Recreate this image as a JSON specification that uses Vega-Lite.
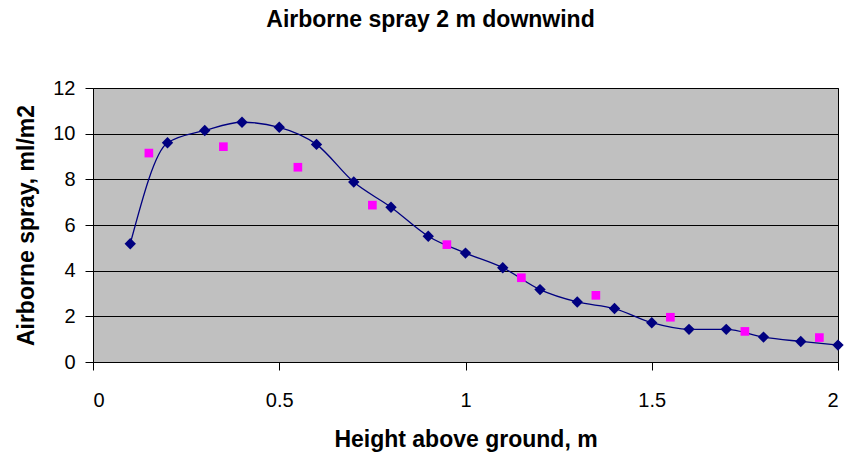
{
  "$schema": "https://vega.github.io/schema/vega-lite/v6.json",
  "width": 745,
  "height": 274,
  "autosize": {"type": "none"},
  "padding": {"left": 93, "top": 88, "right": 15, "bottom": 90},
  "background": "white",
  "config": {
    "font": "Liberation Sans",
    "view": {"fill": "#C0C0C0", "stroke": "black", "strokeWidth": 1},
    "axis": {"labelFont": "Liberation Sans", "titleFont": "Liberation Sans", "labelColor": "black", "titleColor": "black", "domainColor": "black", "tickColor": "black"}
  },
  "title": {
    "text": "Airborne spray 2 m downwind",
    "fontSize": 23,
    "fontWeight": "bold",
    "font": "Liberation Sans",
    "color": "black",
    "anchor": "middle",
    "frame": "group",
    "dx": -35,
    "offset": 46
  },
  "datasets": {
    "measured": [
      {"h": 0.1, "v": 5.18},
      {"h": 0.2, "v": 9.6},
      {"h": 0.3, "v": 10.14},
      {"h": 0.4, "v": 10.5},
      {"h": 0.5, "v": 10.28},
      {"h": 0.6, "v": 9.53},
      {"h": 0.7, "v": 7.88},
      {"h": 0.8, "v": 6.78},
      {"h": 0.9, "v": 5.51},
      {"h": 1.0, "v": 4.77},
      {"h": 1.1, "v": 4.13},
      {"h": 1.2, "v": 3.17},
      {"h": 1.3, "v": 2.63},
      {"h": 1.4, "v": 2.34},
      {"h": 1.5, "v": 1.72},
      {"h": 1.6, "v": 1.43},
      {"h": 1.7, "v": 1.43},
      {"h": 1.8, "v": 1.09},
      {"h": 1.9, "v": 0.9},
      {"h": 2.0, "v": 0.74}
    ],
    "second": [
      {"h": 0.15, "v": 9.15},
      {"h": 0.35, "v": 9.43},
      {"h": 0.55, "v": 8.53},
      {"h": 0.75, "v": 6.87},
      {"h": 0.95, "v": 5.14},
      {"h": 1.15, "v": 3.69},
      {"h": 1.35, "v": 2.92},
      {"h": 1.55, "v": 1.96},
      {"h": 1.75, "v": 1.34},
      {"h": 1.95, "v": 1.07}
    ]
  },
  "encoding": {
    "x": {
      "field": "h", "type": "quantitative",
      "scale": {"domain": [0, 2], "nice": false},
      "axis": {
        "title": "Height above ground, m",
        "titleFontSize": 23, "titleFontWeight": "bold", "titlePadding": 18,
        "labelFontSize": 20, "labelPadding": 20,
        "values": [0, 0.5, 1, 1.5, 2], "format": "~g",
        "grid": false, "tickSize": 8, "domain": false
      }
    },
    "y": {
      "field": "v", "type": "quantitative",
      "scale": {"domain": [0, 12], "nice": false},
      "axis": {
        "title": "Airborne spray, ml/m2",
        "titleFontSize": 23, "titleFontWeight": "bold", "titlePadding": 14,
        "labelFontSize": 20, "labelPadding": 10,
        "values": [0, 2, 4, 6, 8, 10, 12],
        "grid": true, "gridColor": "black", "gridOpacity": 1, "gridWidth": 1,
        "tickSize": 8, "domain": false
      }
    }
  },
  "layer": [
    {
      "data": {"name": "measured"},
      "mark": {"type": "line", "interpolate": "monotone", "color": "#000080", "strokeWidth": 1.3}
    },
    {
      "data": {"name": "measured"},
      "mark": {"type": "point", "shape": "diamond", "filled": true, "color": "#000080", "size": 130, "opacity": 1}
    },
    {
      "data": {"name": "second"},
      "mark": {"type": "point", "shape": "square", "filled": true, "color": "#FF00FF", "size": 75, "opacity": 1}
    }
  ]
}
